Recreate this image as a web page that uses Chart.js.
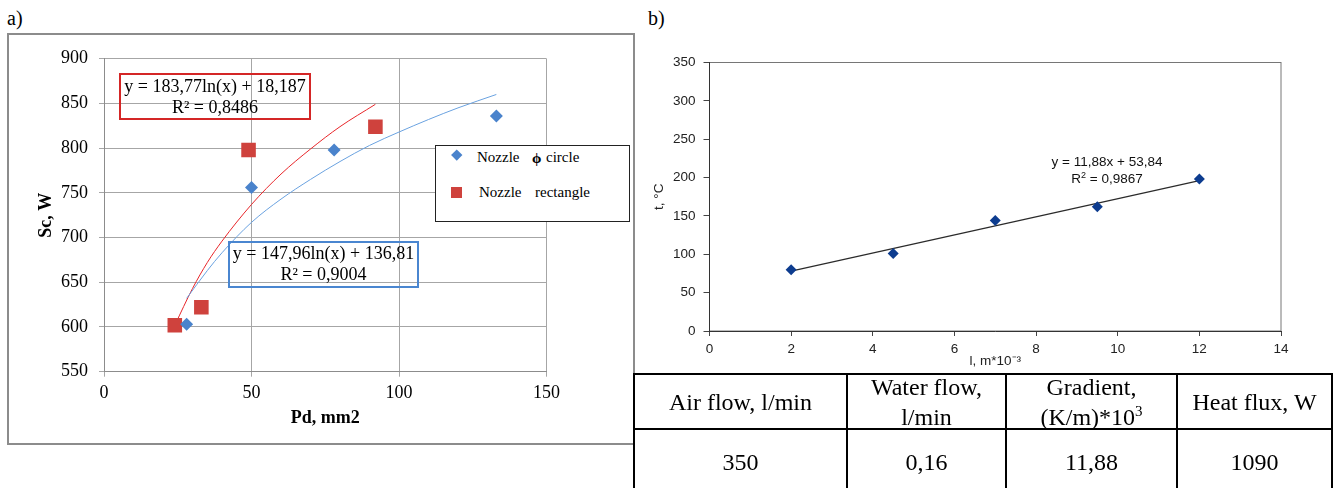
<!DOCTYPE html>
<html>
<head>
<meta charset="utf-8">
<script src="https://cdn.jsdelivr.net/npm/chart.js@4.4.0/dist/chart.umd.min.js"></script>
<style>
  body { margin:0; width:1339px; height:488px; background:#fff; position:relative; overflow:hidden;
         font-family:"Liberation Serif","Times New Roman",serif; color:#000; }
  .abs { position:absolute; white-space:pre; }
  #frameA { position:absolute; left:7px; top:33px; width:628px; height:412px; box-sizing:border-box; border:2px solid #8c8c8c; }
  #cA { position:absolute; left:0; top:0; }
  #cB { position:absolute; left:640px; top:0; }
  .eq { position:absolute; box-sizing:border-box; font-size:18px; line-height:21px; text-align:center; }
  #legA { position:absolute; left:435px; top:145px; width:195px; height:77px; box-sizing:border-box; border:1.5px solid #222; background:#fff; }
  .leg { position:absolute; font-size:15px; line-height:20px; white-space:pre; }
  #tbl { position:absolute; left:633px; top:373px; border-collapse:collapse; table-layout:fixed; font-size:24px; }
  #tbl td { border:2px solid #000; padding:0; text-align:center; vertical-align:middle; }
  #tbl td div { display:flex; flex-direction:column; justify-content:center; line-height:30px; }
  #tbl sup { font-size:15px; line-height:0; vertical-align:9px; }
</style>
</head>
<body>
<div class="abs" style="left:7px;top:6px;font-size:20px;line-height:24px;">a)</div>
<div class="abs" style="left:648px;top:6px;font-size:20px;line-height:24px;">b)</div>
<div id="frameA"></div>
<canvas id="cA" width="640" height="450"></canvas>
<canvas id="cB" width="699" height="372"></canvas>

<div class="eq" style="left:119px;top:73px;width:192px;height:47px;border:2px solid #d42626;padding-top:0.5px;">y = 183,77ln(x) + 18,187<br>R² = 0,8486</div>
<div class="eq" style="left:228px;top:241px;width:191px;height:47px;border:2px solid #4a86d0;">y = 147,96ln(x) + 136,81<br>R² = 0,9004</div>

<div id="legA"></div>
<div class="abs" style="left:453px;top:151px;width:7.5px;height:7.5px;background:#4a83cc;transform:rotate(45deg);"></div>
<div class="leg" style="left:477px;top:147px;">Nozzle</div>
<div class="leg" style="left:532px;top:148px;font-weight:bold;">ϕ</div>
<div class="leg" style="left:546px;top:147px;">circle</div>
<div class="abs" style="left:451px;top:187px;width:11px;height:11px;background:#cf423d;"></div>
<div class="leg" style="left:479px;top:182px;">Nozzle</div>
<div class="leg" style="left:535px;top:182px;">rectangle</div>

<div class="abs" style="left:1032px;top:153px;width:150px;text-align:center;font-family:'Liberation Sans',Arial,sans-serif;font-size:13.5px;line-height:17px;color:#111;">y = 11,88x + 53,84<br>R<sup style="font-size:9px;line-height:0;">2</sup> = 0,9867</div>

<table id="tbl"></table>

<script>
// a) Sc vs Pd
var circleX = [28, 50, 78, 133];
var circleY = [603, 756, 798, 836];
var rectX = [24, 33, 49, 92];
var rectY = [602, 622, 798, 824];
// trend lines
var circleFitX = [28, 35, 40, 50, 60, 70, 80, 90, 100, 110, 120, 133];
var circleFitY = [632, 663, 683, 717, 743, 765, 785, 803, 818, 832, 845, 860];
var rectFitX = [24, 30, 35, 40, 50, 60, 70, 80, 92];
var rectFitY = [602, 643, 672, 696, 737, 771, 799, 824, 849];
var ticksAx = [0, 50, 100, 150];
var ticksAy = [550, 600, 650, 700, 750, 800, 850, 900];

// b) t vs l
var lenX = [2, 4.5, 7, 9.5, 12];
var tempY = [80, 101, 144, 162, 198];
var lineX = [2, 12];
var lineY = [78, 196];
var ticksBx = [0, 2, 4, 6, 8, 10, 12, 14];
var ticksBy = [0, 50, 100, 150, 200, 250, 300, 350];

// table
var tblHead = ['Air flow, l/min', 'Water flow,<br>l/min', 'Gradient,<br>(K/m)*10<sup>3</sup>', 'Heat flux, W'];
var tblRow = ['350', '0,16', '11,88', '1090'];
var tblCols = [213, 159, 171, 155];

function pts(xs, ys) {
  var out = [];
  for (var i = 0; i < xs.length; i++) out.push({ x: xs[i], y: ys[i] });
  return out;
}
function setTicks(arr) {
  return function (s) { s.ticks = arr.map(function (v) { return { value: v }; }); };
}

var serif = '"Liberation Serif","Times New Roman",serif';
var sans = '"Liberation Sans",Arial,sans-serif';

new Chart(document.getElementById('cA'), {
  type: 'scatter',
  data: {
    datasets: [
      { data: pts(circleX, circleY), pointStyle: 'rectRot', pointRadius: 6.5, backgroundColor: '#4a83cc', borderColor: '#4a83cc', borderWidth: 0, order: 0 },
      { data: pts(rectX, rectY), pointStyle: 'rect', pointRadius: 10.3, backgroundColor: '#cf423d', borderColor: '#cf423d', borderWidth: 0, order: 0 },
      { data: pts(circleFitX, circleFitY), showLine: true, pointRadius: 0, borderColor: '#6aa2e0', borderWidth: 1, cubicInterpolationMode: 'monotone', order: 1 },
      { data: pts(rectFitX, rectFitY), showLine: true, pointRadius: 0, borderColor: '#e8262a', borderWidth: 1, cubicInterpolationMode: 'monotone', order: 1 }
    ]
  },
  options: {
    responsive: false, animation: false, devicePixelRatio: 1,
    layout: { padding: { left: 35.2, right: 93.5, top: 58.7, bottom: 21.2 } },
    plugins: { legend: { display: false }, tooltip: { enabled: false } },
    scales: {
      x: {
        type: 'linear', min: 0, max: 150,
        afterBuildTicks: setTicks(ticksAx),
        ticks: { color: '#000', padding: 5.5, font: { family: serif, size: 18, lineHeight: 1.2 } },
        grid: { color: '#a6a6a6', tickLength: 5 },
        border: { color: '#8c8c8c' },
        title: { display: true, text: 'Pd, mm2', color: '#000', padding: 0, font: { family: serif, size: 18, weight: 'bold', lineHeight: 1.2 } },
        afterFit: function (s) { s.height = 57.1; }
      },
      y: {
        type: 'linear', min: 550, max: 900,
        afterBuildTicks: setTicks(ticksAy),
        ticks: { color: '#000', padding: 11, font: { family: serif, size: 18, lineHeight: 1.2 } },
        grid: { color: '#a6a6a6', tickLength: 5 },
        border: { color: '#8c8c8c' },
        title: { display: true, text: 'Sc, W', color: '#000', padding: 0, font: { family: serif, size: 18, weight: 'bold', lineHeight: 1.2 } },
        afterFit: function (s) { s.width = 68.8; }
      }
    }
  }
});

var plotBox = {
  id: 'plotBox',
  beforeDraw: function (chart) {
    var a = chart.chartArea, ctx = chart.ctx;
    ctx.save();
    ctx.strokeStyle = '#767676';
    ctx.lineWidth = 1;
    ctx.strokeRect(a.left, a.top, a.right - a.left, a.bottom - a.top);
    ctx.restore();
  }
};

new Chart(document.getElementById('cB'), {
  type: 'scatter',
  data: {
    datasets: [
      { data: pts(lenX, tempY), pointStyle: 'rectRot', pointRadius: 5.5, backgroundColor: '#0d3c8f', borderColor: '#0d3c8f', borderWidth: 0, order: 0 },
      { data: pts(lineX, lineY), showLine: true, pointRadius: 0, borderColor: '#2b2b2b', borderWidth: 1.2, order: 1 }
    ]
  },
  options: {
    responsive: false, animation: false, devicePixelRatio: 1,
    layout: { padding: { left: 11.5, right: 58, top: 62.5, bottom: 2.5 } },
    plugins: { legend: { display: false }, tooltip: { enabled: false } },
    scales: {
      x: {
        type: 'linear', min: 0, max: 14,
        afterBuildTicks: setTicks(ticksBx),
        ticks: { color: '#222', padding: 5.5, font: { family: sans, size: 13.5, lineHeight: 1.2 } },
        grid: { drawOnChartArea: false, color: '#444', tickLength: 5 },
        border: { color: '#333' },
        title: { display: true, text: 'l, m*10⁻³', color: '#222', padding: 0, font: { family: sans, size: 13.5, lineHeight: 1.2 } },
        afterFit: function (s) { s.height = 38.5; }
      },
      y: {
        type: 'linear', min: 0, max: 350,
        afterBuildTicks: setTicks(ticksBy),
        ticks: { color: '#222', padding: 8, font: { family: sans, size: 13.5, lineHeight: 1.2 } },
        grid: { drawOnChartArea: false, color: '#444', tickLength: 6 },
        border: { color: '#333' },
        title: { display: true, text: 't, °C', color: '#222', padding: 0, font: { family: sans, size: 13.5, lineHeight: 1.2 } },
        afterFit: function (s) { s.width = 58; }
      }
    }
  },
  plugins: [plotBox]
});

// table below chart b
var tbl = document.getElementById('tbl');
var html = '<colgroup>';
tblCols.forEach(function (w) { html += '<col style="width:' + w + 'px">'; });
html += '</colgroup><tr>';
tblHead.forEach(function (t) { html += '<td style="height:53px"><div style="height:53px"><span>' + t + '</span></div></td>'; });
html += '</tr><tr>';
tblRow.forEach(function (t) { html += '<td style="height:63px"><div style="height:63px"><span>' + t + '</span></div></td>'; });
html += '</tr>';
tbl.innerHTML = html;
</script>
</body>
</html>
